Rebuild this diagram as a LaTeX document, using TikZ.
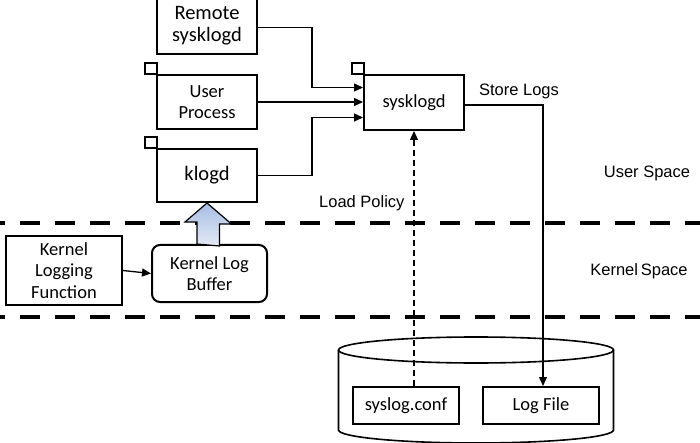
\documentclass[tikz,border=0pt]{standalone}
\usepackage{fontspec}
\setmainfont{Carlito}
\newfontfamily\labelfont{Liberation Sans}
\usetikzlibrary{arrows.meta}
\definecolor{shadetop}{HTML}{A6BDE4}
\definecolor{shadebottom}{HTML}{E4EAF6}
\tikzset{
  proc/.style={draw, line width=2pt, minimum width=100pt, minimum height=54pt,
    align=center, inner sep=0pt, font=\fontsize{18.5}{21.5}\selectfont},
  bigproc/.style={proc, font=\fontsize{20.5}{22}\selectfont},
  filebox/.style={draw, line width=2pt, minimum height=37pt, inner sep=0pt,
    font=\fontsize{18.5}{20}\selectfont},
  link/.style={line width=1.3pt, -{Triangle[length=9pt,width=8pt]}},
  spaceline/.style={line width=4pt, dash pattern=on 20pt off 15pt, dash phase=15pt},
  tag/.style={font=\labelfont\fontsize{16.5}{20}\selectfont}
}
\begin{document}
\begin{tikzpicture}[x=1pt, y=-1pt]
    \clip (0, 0) rectangle (700, 443);

    % kernel / user boundaries
    \draw[spaceline] (0, 223) -- (700, 223);
    \draw[spaceline] (0, 317) -- (700, 317);

    \node[bigproc, minimum height=57pt] (remote) at (207, 25.5) {Remote\\sysklogd};
    \node[proc] (user) at (207, 102) {User\\Process};
    \node[bigproc, minimum height=53pt] (klogd) at (207, 175.5) {klogd};
    \node[proc, minimum height=55pt] (sysk) at (414, 102.5) {sysklogd};
    \node[proc, minimum width=116pt, minimum height=69pt] (kfun) at (64, 270.5)
      {Kernel\\Logging\\Function};
    \node[proc, rounded corners=8pt, minimum width=115pt, minimum height=57pt] (buf)
      at (209.5, 273.5) {Kernel Log\\Buffer};

    % little tabs
    \foreach \n in {user, klogd, sysk}
      \draw[line width=2pt] (\n.north west) ++(0.5, 0) rectangle ++(-12, -11);
    \draw[line width=2pt] (remote.north west) ++(0.5, 3) rectangle ++(-12, -11);

    % log storage
    \draw[line width=1.6pt, fill=white]
    (338.5, 350) -- (338.5, 430) arc[start angle=180, end angle=360, x radius=137.5, y radius=-13]
    -- (613.5, 350);
    \draw[line width=1.6pt] (476, 350) ellipse[x radius=137.5, y radius=13];
    \node[filebox, minimum width=106pt] (conf) at (406, 405.5) {syslog.conf};
    \node[filebox, minimum width=116pt] (logf) at (541, 405.5) {Log File};

    % connectors
    \draw[link] (remote.east) ++(0, 2) -- ++(54, 0) |- ([yshift=15pt]sysk.west);
    \draw[link] (user.east) -- (user.east -| sysk.west);
    \draw[link] (klogd.east) -- ++(54, 0) |- ([yshift=-15pt]sysk.west);
    \draw[link] (kfun.east) -- (buf.west);
    \draw[link] ([yshift=-2.5pt]sysk.east) -| ([xshift=2pt]logf.north);
    \draw[link, dash pattern=on 6pt off 4pt] (sysk.south |- conf.north) -- (sysk.south);

    \draw[line width=1.2pt, top color=shadetop, bottom color=shadebottom]
    (buf.north) ++(-12.5, 0) -- ++(0, -22) -- ++(-12, 0) -- (klogd.south)
    -- ++(24.5, 21) -- ++(-12, 0) -- ++(0, 22) -- cycle;

    \node[tag] (storelbl) at (519, 91) {Store Logs};
    \node[tag, anchor=east] (policylbl) at (408, 203) {Load Policy};
    \node[tag] (userlbl) at (647, 173) {User Space};
    \node[tag] (kernlbl) at (639, 271) {Kernel\,Space};
\end{tikzpicture}
\end{document}
